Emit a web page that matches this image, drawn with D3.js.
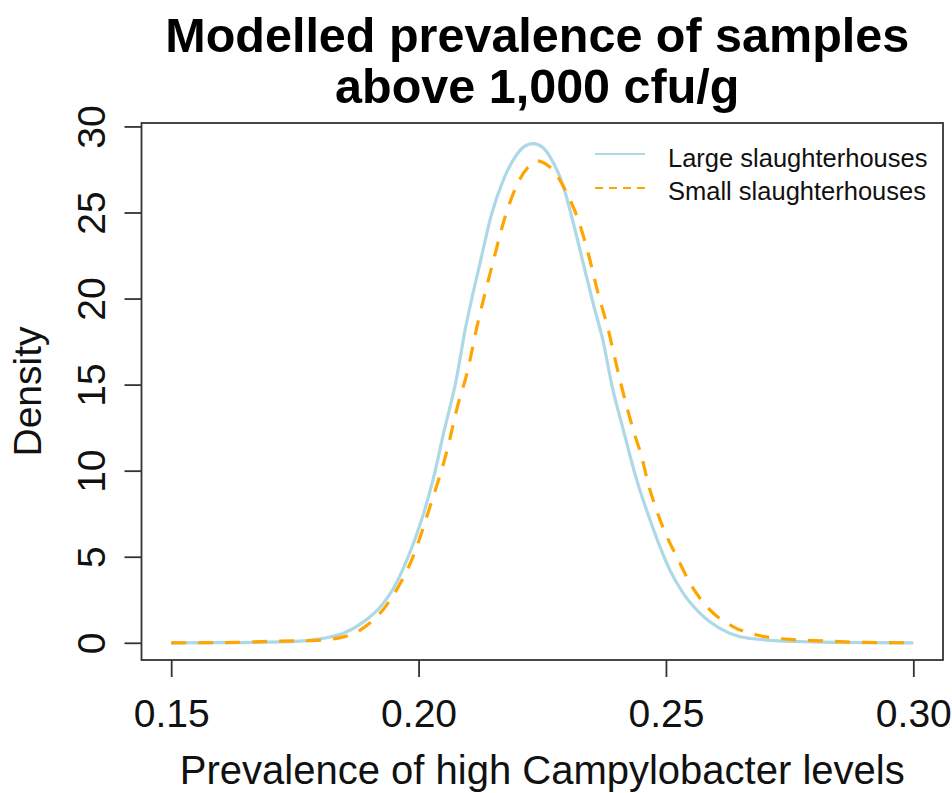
<!DOCTYPE html>
<html>
<head>
<meta charset="utf-8">
<script src="https://cdn.jsdelivr.net/npm/d3@7"></script>
<style>
  html, body { margin: 0; padding: 0; background: #fff; }
  svg { display: block; font-family: "Liberation Sans", Arial, sans-serif; }
</style>
</head>
<body>
<svg id="chart" width="952" height="793"></svg>
<script>
// ---- data ----
const titleLines = ["Modelled prevalence of samples", "above 1,000 cfu/g"];
const xLabel = "Prevalence of high Campylobacter levels";
const yLabel = "Density";
const xTicks = [0.15, 0.20, 0.25, 0.30];
const yTicks = [0, 5, 10, 15, 20, 25, 30];
const seriesNames = ["Large slaughterhouses", "Small slaughterhouses"];

const largeX = [0.150,0.160,0.172,0.1794,0.1848,0.1888,0.1926,0.1949,0.1979,0.2006,0.2029,0.2052,0.2076,0.2094,0.2124,0.2148,0.2171,0.2195,0.2212,0.2232,0.2250,0.2266,0.2293,0.2313,0.2333,0.2353,0.2374,0.2390,0.2414,0.2441,0.2468,0.2488,0.2508,0.2535,0.2569,0.2609,0.2650,0.2704,0.2797,0.290,0.300];
const largeY = [0,0.01,0.05,0.2,0.55,1.2,2.2,3.15,4.99,7.13,9.45,12.35,15.26,18.16,22.03,24.94,26.87,28.22,28.8,29.0,28.8,28.22,26.48,24.36,22.03,19.71,17.39,15.06,12.35,9.45,7.13,5.57,4.22,2.87,1.71,0.84,0.35,0.16,0.05,0.01,0];

const smallX = [0.150,0.160,0.172,0.178,0.1835,0.1882,0.1915,0.1929,0.1959,0.1986,0.2023,0.2056,0.2082,0.2096,0.2121,0.2148,0.2177,0.2197,0.2229,0.2239,0.2255,0.2272,0.2300,0.2323,0.2343,0.2363,0.2382,0.2404,0.2421,0.2434,0.2451,0.2464,0.2481,0.2502,0.2522,0.2549,0.2586,0.2636,0.2684,0.2724,0.2825,0.290,0.300];
const smallY = [0,0.01,0.1,0.12,0.26,0.74,1.51,1.95,3.25,4.8,7.9,11.0,14.09,15.45,18.74,21.84,24.94,26.48,27.84,28.0,27.85,27.45,26.1,24.55,22.61,20.29,18.35,15.64,13.7,12.35,10.8,9.26,7.71,6.16,5.0,3.45,2.0,0.93,0.45,0.26,0.1,0.02,0];

// ---- layout ----
const plot = { left: 141.5, right: 943, top: 123, bottom: 660 };
const svg = d3.select("#chart");

const x = d3.scaleLinear().domain([0.144, 0.306]).range([plot.left, plot.right]);
const y = d3.scaleLinear().domain([-1.0, 30.2]).range([plot.bottom, plot.top]);

const axisColor = "#333";

// box
svg.append("rect")
  .attr("x", plot.left).attr("y", plot.top)
  .attr("width", plot.right - plot.left).attr("height", plot.bottom - plot.top)
  .attr("fill", "none").attr("stroke", axisColor).attr("stroke-width", 1.8);

// x axis
const xAxis = d3.axisBottom(x).tickValues(xTicks).tickFormat(d3.format(".2f")).tickSize(17).tickPadding(22);
const gx = svg.append("g").attr("transform", `translate(0,${plot.bottom})`).call(xAxis);
gx.select(".domain").remove();
gx.selectAll(".tick line").attr("stroke", axisColor).attr("stroke-width", 1.8);
gx.selectAll(".tick text").attr("fill", "#111").attr("font-size", 39)
  .attr("font-family", "Liberation Sans, Arial, sans-serif");

// y axis
const yAxis = d3.axisLeft(y).tickValues(yTicks).tickFormat(d3.format("d")).tickSize(17);
const gy = svg.append("g").attr("transform", `translate(${plot.left},0)`).call(yAxis);
gy.select(".domain").remove();
gy.selectAll(".tick line").attr("stroke", axisColor).attr("stroke-width", 1.8);
gy.selectAll(".tick text")
  .attr("fill", "#111").attr("font-size", 39)
  .attr("font-family", "Liberation Sans, Arial, sans-serif")
  .attr("x", null).attr("dy", null)
  .attr("text-anchor", "middle")
  .attr("transform", "translate(-37,0) rotate(-90)");

// axis titles
svg.append("text")
  .attr("x", (plot.left + plot.right) / 2).attr("y", 784)
  .attr("text-anchor", "middle").attr("font-size", 40).attr("fill", "#111")
  .text(xLabel);

svg.append("text")
  .attr("transform", `translate(41,${(plot.top + plot.bottom) / 2}) rotate(-90)`)
  .attr("text-anchor", "middle").attr("font-size", 39).attr("fill", "#111")
  .text(yLabel);

// title
svg.append("g").selectAll("text").data(titleLines).join("text")
  .attr("x", (plot.left + plot.right) / 2 - 5)
  .attr("y", (d, i) => 52 + i * 51)
  .attr("text-anchor", "middle").attr("font-weight", "bold").attr("font-size", 48.5).attr("fill", "#000")
  .text(d => d);

// curves
const line = d3.line().x(d => x(d[0])).y(d => y(d[1])).curve(d3.curveMonotoneX);
const largeData = d3.zip(largeX, largeY);
const smallData = d3.zip(smallX, smallY);

svg.append("path").datum(largeData)
  .attr("d", line).attr("fill", "none")
  .attr("stroke", "#ADD8E6").attr("stroke-width", 3.2);

svg.append("path").datum(smallData)
  .attr("d", line).attr("fill", "none")
  .attr("stroke", "#FFA500").attr("stroke-width", 3.2)
  .attr("stroke-dasharray", "15,12");

// legend
const legendItems = [
  { name: seriesNames[0], color: "#ADD8E6", dash: null, ly: 154, ty: 166.5 },
  { name: seriesNames[1], color: "#FFA500", dash: "8,6", ly: 188, ty: 200 }
];
const lg = svg.append("g");
legendItems.forEach(it => {
  lg.append("line").attr("x1", 595).attr("x2", 645).attr("y1", it.ly).attr("y2", it.ly)
    .attr("stroke", it.color).attr("stroke-width", 2)
    .attr("stroke-dasharray", it.dash);
  lg.append("text").attr("x", 668).attr("y", it.ty)
    .attr("font-size", 25.5).attr("fill", "#111").text(it.name);
});
</script>
</body>
</html>
